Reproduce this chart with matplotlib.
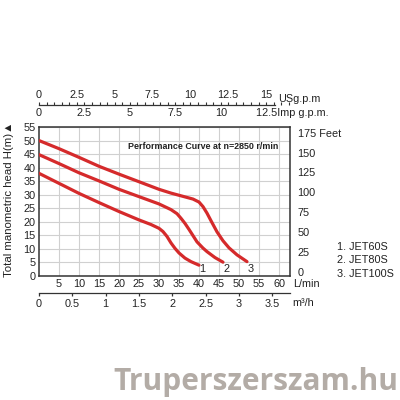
import matplotlib
matplotlib.use('Agg')
import matplotlib.pyplot as plt
from matplotlib.ticker import FixedLocator, MultipleLocator, NullFormatter

plt.rcParams['font.family'] = ['Liberation Sans', 'DejaVu Sans']

# ---------------- data ----------------
models = ['JET60S', 'JET80S', 'JET100S']

q_jet60 = [0, 5, 10, 15, 20, 25, 28, 30, 31, 32, 33, 34, 35, 36.5, 38, 40]
h_jet60 = [37.9, 34.2, 30.5, 27.1, 23.8, 20.7, 19.0, 17.6, 16.4, 14.6, 12.2, 10.2, 8.5, 6.6, 5.3, 4.0]

q_jet80 = [0, 5, 10, 15, 20, 25, 30, 33, 34.5, 35.5, 36.5, 37.5, 38.5, 39.5, 41, 42, 44, 46]
h_jet80 = [44.8, 41.5, 38.1, 35.1, 32.0, 29.3, 26.6, 24.5, 23.0, 21.3, 19.4, 17.2, 14.9, 12.6, 10.3, 9.0, 6.8, 5.1]

q_jet100 = [0, 5, 10, 15, 20, 25, 30, 33, 36, 38.5, 40, 41, 42, 43, 44.5, 46, 47.5, 49.5, 52]
h_jet100 = [50.0, 47.0, 43.8, 40.5, 37.6, 34.8, 32.0, 30.6, 29.4, 28.4, 27.3, 25.6, 23.2, 20.4, 16.3, 13.0, 10.4, 7.8, 5.3]

flow_ticks = [5, 10, 15, 20, 25, 30, 35, 40, 45, 50, 55, 60]          # L/min
head_ticks = [0, 5, 10, 15, 20, 25, 30, 35, 40, 45, 50, 55]           # m
feet_ticks = [0, 25, 50, 75, 100, 125, 150, 175]                       # ft
usgpm_ticks = [0, 2.5, 5, 7.5, 10, 12.5, 15]
impgpm_ticks = [0, 2.5, 5, 7.5, 10, 12.5]
m3h_ticks = [0, 0.5, 1, 1.5, 2, 2.5, 3, 3.5]

title = 'Performance Curve at n=2850 r/min'

# unit conversions
L_PER_USG = 3.785
L_PER_IMP = 4.546
L_PER_M3H = 1000.0 / 60.0

QMAX = 62.75
HMAX = 55
FT_LIM = (-5.4, 182.2)   # feet scale as printed on the reference


def fmt(v):
    return f'{v:g}'


# ---------------- figure ----------------
W = H = 400
fig = plt.figure(figsize=(4, 4), dpi=100)
fig.patch.set_facecolor('white')

left, right, top, bottom = 39, 290, 127, 276
ax = fig.add_axes([left / W, 1 - bottom / H, (right - left) / W, (bottom - top) / H])
ax.set_xlim(0, QMAX)
ax.set_ylim(0, HMAX)

red = '#d52a2b'
fs = 7.8
ink = '#222222'
curves = [(q_jet60, h_jet60), (q_jet80, h_jet80), (q_jet100, h_jet100)]
for i, (q, h) in enumerate(curves):
    ax.plot(q, h, color=red, lw=2.3, solid_capstyle='round', solid_joinstyle='round', zorder=3)
    ax.text(q[-1] + 0.9, 2.4, str(i + 1), fontsize=fs, ha='center', va='center', color=ink)

ax.set_xticks(flow_ticks)
ax.set_xticklabels([fmt(v) for v in flow_ticks])
ax.set_yticks(head_ticks)
ax.set_yticklabels([fmt(v) for v in head_ticks])
ax.tick_params(axis='both', length=0, labelsize=fs, colors=ink)
ax.tick_params(axis='x', pad=2.3)
ax.tick_params(axis='y', pad=2.5)
ax.grid(True, color='#d0d0d0', lw=0.8, zorder=0)
ax.set_axisbelow(True)
for s in ax.spines.values():
    s.set_color('#333333')
    s.set_linewidth(1.1)

ax.text(22.2, 47.9, title, fontsize=6.4, fontweight='bold', ha='left', va='center', color=ink)

# right feet axis
ax2 = ax.twinx()
ax2.set_ylim(*FT_LIM)
ax2.set_yticks(feet_ticks)
ax2.set_yticklabels([fmt(v) for v in feet_ticks[:-1]] + [f'{feet_ticks[-1]} Feet'])
ax2.tick_params(axis='y', length=0, pad=5.5, labelsize=fs, colors=ink)
for s in ax2.spines.values():
    s.set_visible(False)

# top scale: US gpm above, Imp gpm below a common line
yT = 105
axT = fig.add_axes([left / W, 1 - yT / H, (right - left) / W, 1e-5])
axT.patch.set_visible(False)
axT.set_xlim(0, QMAX / L_PER_USG)
axT.set_yticks([])

axI = axT.twiny()
axI.patch.set_visible(False)
axI.set_xlim(0, QMAX / L_PER_IMP)
for s in axI.spines.values():
    s.set_visible(False)
axI.xaxis.set_ticks_position('bottom')
axI.xaxis.set_label_position('bottom')
axI.xaxis.set_major_locator(FixedLocator(impgpm_ticks))
# last Imp label is written together with its unit further below
axI.xaxis.set_major_formatter(plt.FixedFormatter([fmt(v) for v in impgpm_ticks[:-1]] + ['']))
axI.tick_params(axis='x', which='both', length=0, labelsize=fs, pad=2.2, colors=ink,
                labelbottom=True, labeltop=False)

for k in ['left', 'right', 'bottom']:
    axT.spines[k].set_visible(False)
axT.spines['top'].set_visible(True)
axT.spines['top'].set_color('#333333')
axT.spines['top'].set_linewidth(0.9)
axT.spines['top'].set_bounds(0, 15.6)
axT.xaxis.set_ticks_position('top')
axT.xaxis.set_label_position('top')
axT.xaxis.set_major_locator(FixedLocator(usgpm_ticks))
axT.xaxis.set_major_formatter(plt.FixedFormatter([fmt(v) for v in usgpm_ticks]))
axT.xaxis.set_minor_locator(MultipleLocator(0.5))
axT.xaxis.set_minor_formatter(NullFormatter())
axT.tick_params(axis='x', which='both', direction='out', length=2.5, width=0.8, colors='#333333',
                labelsize=fs, pad=0.8, top=True, bottom=False, labeltop=True, labelbottom=False)
axT.tick_params(axis='x', which='major', labelcolor=ink)

fig.text(278 / W, 1 - 98.5 / H, 'USg.p.m', fontsize=fs, ha='left', va='center', color=ink)
fig.text(256.5 / W, 1 - 113.5 / H, f'{fmt(impgpm_ticks[-1])}Imp g.p.m.', fontsize=fs, ha='left',
         va='center', color=ink)

# bottom m3/h scale
yM = 292.5
axM = fig.add_axes([left / W, 1 - yM / H, (right - left) / W, 1e-5])
axM.patch.set_visible(False)
axM.set_xlim(0, QMAX / L_PER_M3H)
axM.set_yticks([])
for k in ['left', 'right', 'top']:
    axM.spines[k].set_visible(False)
axM.spines['bottom'].set_color('#333333')
axM.spines['bottom'].set_linewidth(0.9)
axM.xaxis.set_major_locator(FixedLocator(m3h_ticks))
axM.xaxis.set_major_formatter(plt.FixedFormatter([fmt(v) for v in m3h_ticks]))
axM.tick_params(axis='x', direction='out', length=2.5, width=0.9, colors='#333333', labelsize=fs, pad=2.0)
axM.tick_params(axis='x', labelcolor=ink)

fig.text(293 / W, 1 - 283.8 / H, 'L/min', fontsize=fs, ha='left', va='center', color=ink)
fig.text(292.5 / W, 1 - 303.3 / H, 'm³/h', fontsize=fs, ha='left', va='center', color=ink)

# y label
fig.text(9.5 / W, 1 - 199 / H, 'Total manometric head H(m)▲', rotation=90, fontsize=8.2,
         ha='center', va='center', color=ink)

# legend
for i, m in enumerate(models):
    fig.text(337 / W, 1 - (246.7 + i * 13.7) / H, f'{i + 1}. {m}', fontsize=fs, ha='left', va='center',
             color=ink)

# watermark
fig.text(398 / W, 1 - 382 / H, 'Truperszerszam.hu', fontsize=21.5, fontweight='bold', family='Open Sans',
         ha='right', va='center', color='#b3aca6')

fig.savefig('out.png', dpi=100, facecolor='white')
